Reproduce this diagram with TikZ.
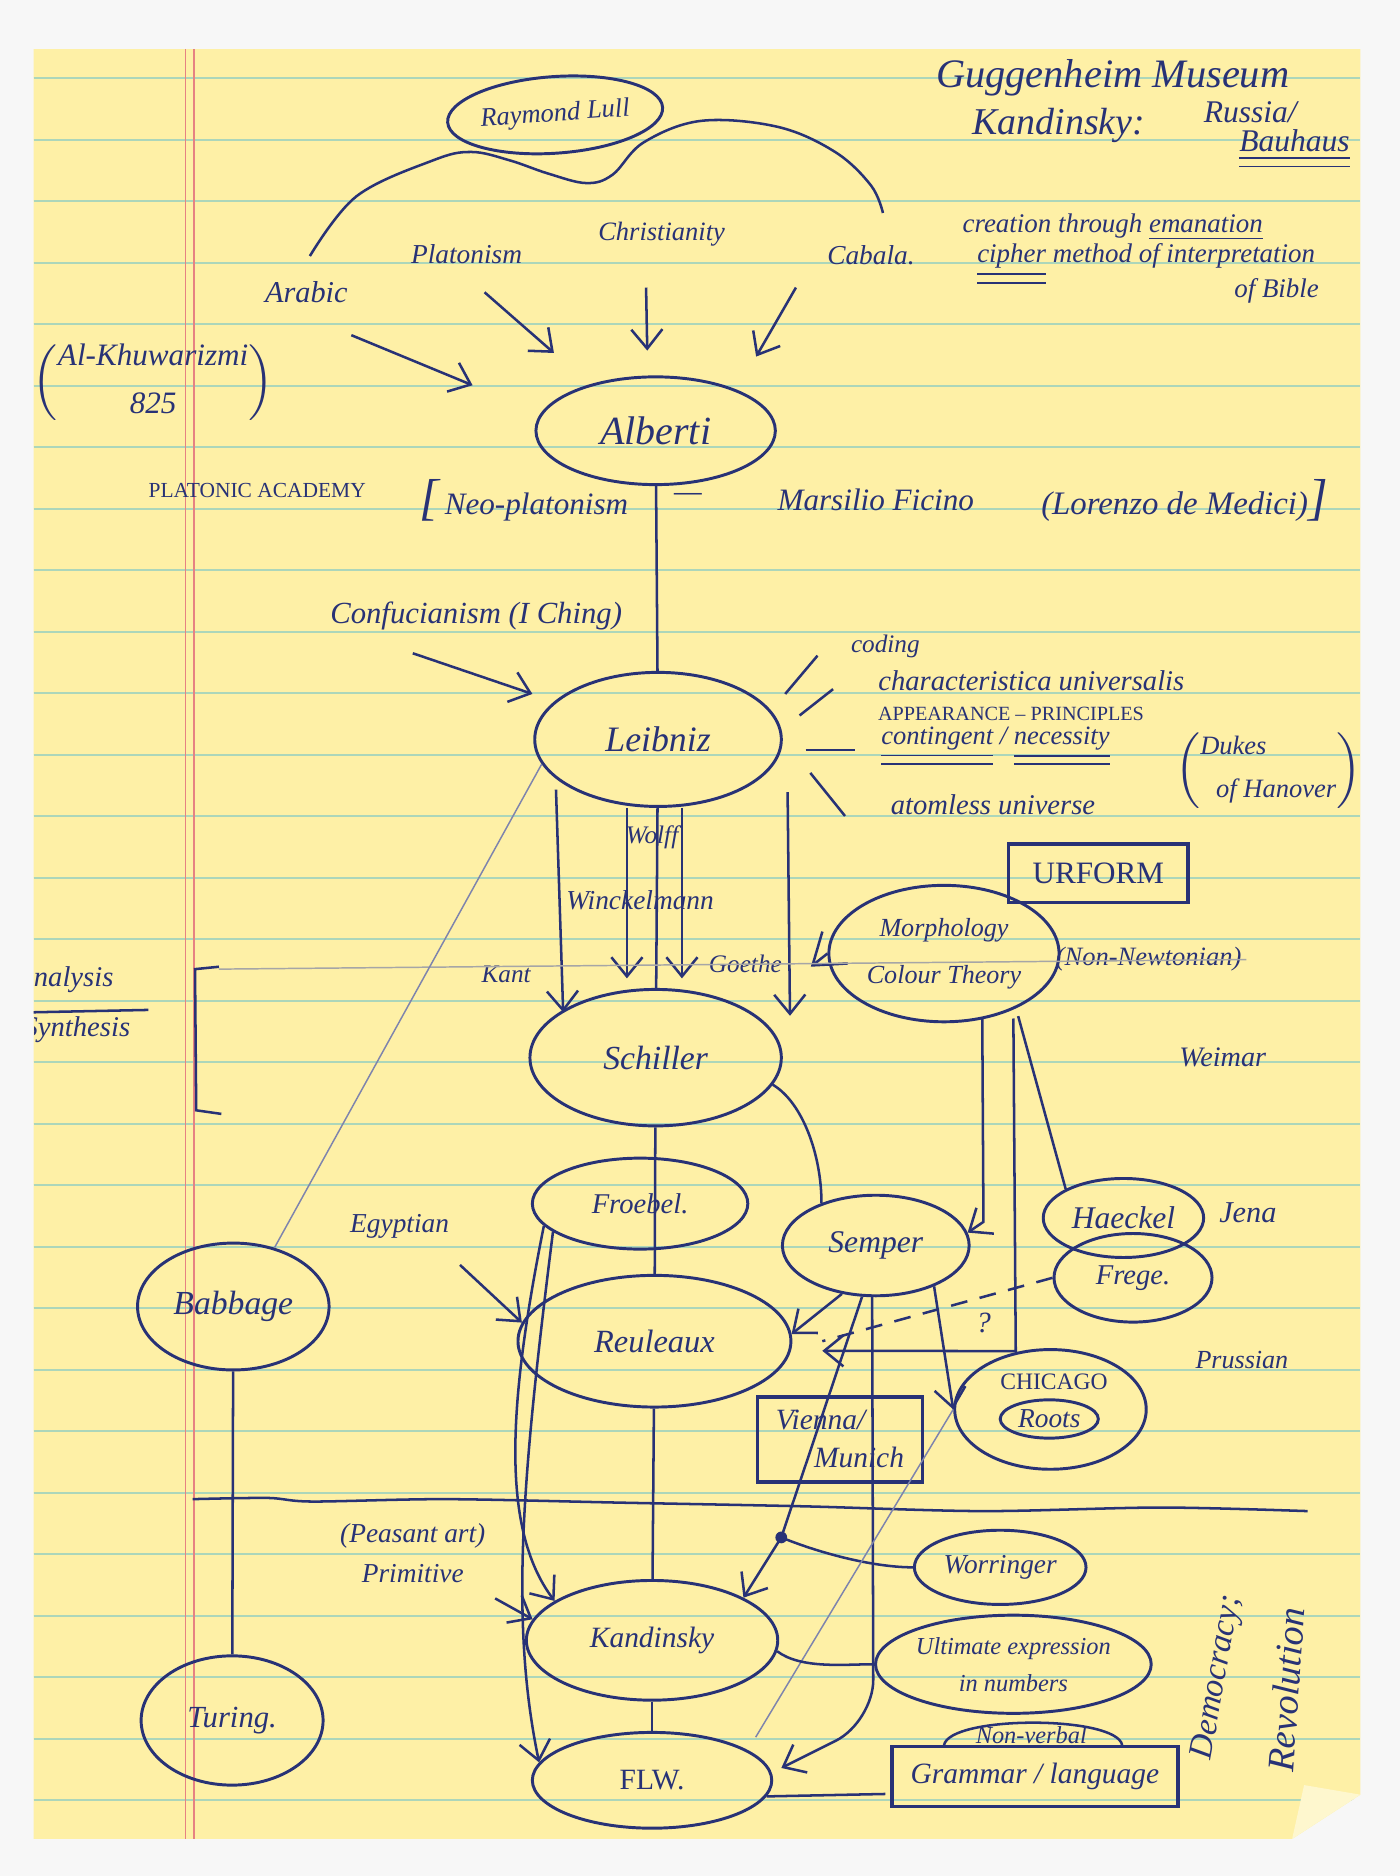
\documentclass[tikz,border=0pt]{standalone}
\usepackage{fontspec}
\setmainfont{Liberation Serif}
\usepackage{tikz}
\usetikzlibrary{shapes.geometric, arrows.meta, positioning}

\definecolor{paper}{RGB}{254,240,166}
\definecolor{ruling}{RGB}{172,214,186}
\definecolor{margin}{RGB}{230,130,130}
\definecolor{ink}{RGB}{40,50,118}

\begin{document}
\begin{tikzpicture}[x=0.01cm, y=-0.01cm, >={Straight Barb[length=1.6mm,width=2.6mm]}]
    \tikzset{fs/.style={text=ink, inner sep=1pt, font=\itshape\fontsize{#1}{#1pt}\selectfont}}
    \tikzset{caps/.style={text=ink, inner sep=1pt, font=\upshape\fontsize{#1}{#1pt}\selectfont}}
    \tikzstyle{idea} = [draw=ink, ellipse, line width=0.7pt, inner sep=0pt]
    \tikzstyle{boxed} = [draw=ink, rectangle, line width=0.8pt, inner sep=2pt]
    \tikzstyle{line} = [draw=ink, line width=0.6pt]
    \tikzstyle{arrowline} = [line, ->]
    \tikzstyle{faint} = [draw=ink!60, line width=0.35pt]

    \useasboundingbox (0,0) rectangle (1170,1568);
    \fill[black!3] (0,0) rectangle (1170,1568);

    % the legal pad sheet
    \fill[paper] (28,41) -- (1137,41) -- (1137,1500) -- (1080,1537) -- (28,1537) -- cycle;
    \begin{scope}
        \clip (28,41) -- (1137,41) -- (1137,1500) -- (1080,1537) -- (28,1537) -- cycle;
        \foreach \k in {0,...,28}
            \draw[ruling, line width=0.5pt] (28,{65.5+51.4*\k}) -- (1137,{65.5+51.4*\k});
        \draw[margin, line width=0.35pt] (155,41) -- (155,1537);
        \draw[margin, line width=0.35pt] (162,41) -- (162,1537);
        % cut off by the edge of the sheet
        \node[fs=6.8, anchor=east] (analysis) at (99,819) {Analysis};
        \node[fs=6.8, anchor=east] (synthesis) at (113,861) {Synthesis};
        \draw[line] ([shift={(-80,14)}]analysis.south west) -- ([shift={(25,10)}]analysis.south east);
    \end{scope}
    \fill[paper!55!white] (1090,1492) -- (1137,1500) -- (1080,1537) -- cycle;

    % heading
    \node[fs=9.6] (heading) at (930,65) {Guggenheim Museum};
    \node[fs=9] (kandheading) at (885,105) {Kandinsky:};
    \node[fs=7.5] (russia) at (1045,94) {Russia/};
    \node[fs=7.5] (bauhaus) at (1082,125) {\underline{\underline{Bauhaus}}};

    % sources of Alberti
    \node[idea, fs=6.3, inner sep=0pt, minimum width=1.8cm, minimum height=0.64cm, rotate=4] (lull) at (464,96) {Raymond Lull};
    \draw[line] plot[smooth, tension=0.6] coordinates {(259,214) (298,164) (362,134) (394,127) (426,134) (458,145) (490,153) (512,146) (538,119) (586,101) (650,106) (698,127) (728,155) (738,178)};
    \node[fs=6.5] (platonism) at (390,212) {Platonism};
    \node[fs=6.3] (christianity) at (553,196) {Christianity};
    \node[fs=6.5] (cabala) at (728,213) {Cabala.};
    \node[fs=6.4] (emanation) at (930,190) {creation through \underline{emanation}};
    \node[fs=6.4] (cipher) at (958,221) {\underline{\underline{cipher}} method of interpretation};
    \node[fs=6.4] (bible) at (1067,243) {of Bible};
    \node[fs=7.2] (arabic) at (256,244) {Arabic};
    \node[fs=7.4] (khuwarizmi) at (128,320) {$\left(\mbox{\begin{tabular}{@{}c@{}}Al-Khuwarizmi\\[4pt]825\end{tabular}}\right)$};

    \node[idea, fs=9.5, minimum width=2.0cm, minimum height=0.9cm] (alberti) at (548,360) {Alberti};
    \coordinate (intoalbertiA) at (395,322);
    \coordinate (intoalbertiB) at (463,295);
    \coordinate (intoalbertiC) at (541,293);
    \coordinate (intoalbertiD) at (632,298);
    \draw[arrowline] ([shift={(-1,23)}]arabic.south east) -- (intoalbertiA);
    \draw[arrowline] ([shift={(15,20)}]platonism.south) -- (intoalbertiB);
    \draw[arrowline] ([shift={(-13,30)}]christianity.south) -- (intoalbertiC);
    \draw[arrowline] ([shift={(-22,15)}]cabala.south west) -- (intoalbertiD);

    \node[caps=5.1] (academy) at (215,410) {PLATONIC ACADEMY};
    \node[fs=7.4] (neoplatonism) at (438,418) {{\fontsize{12}{12pt}\selectfont[}\,Neo-platonism};
    \node[fs=7.4] (dash) at (575,416) {---};
    \node[fs=7.4] (ficino) at (732,418) {Marsilio Ficino};
    \node[fs=7.8] (medici) at (990,418) {(Lorenzo de Medici){\fontsize{12}{12pt}\selectfont]}};

    % Leibniz
    \node[fs=7.3] (confucianism) at (398,515) {Confucianism (I Ching)};
    \coordinate (intoleibniz) at (445,580);
    \draw[arrowline] ([shift={(-53,15)}]confucianism.south) -- (intoleibniz);
    \node[idea, fs=8.5, minimum width=2.06cm, minimum height=1.12cm] (leibniz) at (550,618) {Leibniz};
    \draw[line] (alberti) -- (leibniz);
    \draw[line] ([shift={(2,-38)}]leibniz.east) -- ++(27,-32);
    \draw[line] ([shift={(14,-20)}]leibniz.east) -- ++(28,-22);
    \draw[line] ([shift={(19,9)}]leibniz.east) -- ++(41,0);
    \draw[line] ([shift={(23,28)}]leibniz.east) -- ++(29,36);
    \node[fs=6] (coding) at (740,540) {coding};
    \node[fs=6.8] (characteristica) at (862,569) {characteristica universalis};
    \node[caps=4.8] (appearance) at (845,597) {APPEARANCE -- PRINCIPLES};
    \node[fs=6.3] (contingent) at (832,624) {\underline{\underline{contingent}} / \underline{\underline{necessity}}};
    \node[fs=6.8] (atomless) at (830,673) {atomless universe};
    \node[fs=6.3] (dukes) at (1060,644) {$\left(\mbox{\begin{tabular}{@{}l@{}}Dukes\\[4pt]\hspace{0.6em}of Hanover\end{tabular}}\right)$};

    % Leibniz to Schiller
    \node[fs=6] (wolff) at (545,700) {Wolff};
    \node[fs=6.5] (winckelmann) at (535,752) {Winckelmann};
    \node[fs=6] (kant) at (423,814) {Kant};
    \node[fs=6] (goethe) at (623,806) {Goethe};
    \node[idea, fs=8, minimum width=2.1cm, minimum height=1.14cm] (schiller) at (548,884) {Schiller};
    \draw[arrowline] ([shift={(19,42)}]leibniz.west) -- ([shift={(29,-38)}]schiller.west);
    \draw[arrowline] ([shift={(-26,0)}]leibniz.south) -- ([shift={(-24,-8)}]schiller.north);
    \draw[line] (leibniz) -- (schiller);
    \draw[arrowline] ([shift={(20,0)}]leibniz.south) -- ([shift={(22,-8)}]schiller.north);
    \draw[arrowline] ([shift={(4,44)}]leibniz.east) -- ([shift={(6,-35)}]schiller.east);

    % Goethe's side
    \node[boxed, caps=7.4, minimum width=1.5cm, minimum height=0.49cm] (urform) at (918,730) {URFORM};
    \node[idea, fs=6.2, minimum width=1.76cm, minimum height=1.14cm, align=center] (morphology) at (789,797) {Morphology\\[5pt]Colour Theory};
    \node[fs=6.3] (nonnewtonian) at (960,802) {(Non-Newtonian)};
    \node[fs=6.7] (weimar) at (1022,884) {Weimar};
    \draw[line, -{Straight Barb[length=2.4mm,width=3.4mm]}] (morphology.west) -- ([shift={(20,2)}]goethe.east);
    \draw[line] (183,808) -- (163,810) -- (164,928) -- (185,931);
    \coordinate (brackettop) at (183,810);
    \draw[draw=black!35, line width=0.35pt] (brackettop) -- (nonnewtonian.east);

    % the middle generation
    \node[idea, fs=6.8, minimum width=1.8cm, minimum height=0.76cm] (froebel) at (535,1006) {Froebel.};
    \node[idea, fs=7.5, minimum width=1.56cm, minimum height=0.84cm] (semper) at (732,1041) {Semper};
    \node[idea, fs=7.5, minimum width=1.34cm, minimum height=0.66cm] (haeckel) at (939,1018) {Haeckel};
    \node[fs=7.2] (jena) at (1043,1014) {Jena};
    \node[idea, fs=6.8, minimum width=1.32cm, minimum height=0.74cm] (frege) at (947,1068) {Frege.};
    \node[idea, fs=7.7, minimum width=2.28cm, minimum height=1.1cm] (reuleaux) at (547,1121) {Reuleaux};
    \node[idea, fs=8, minimum width=1.6cm, minimum height=1.06cm] (babbage) at (195,1092) {Babbage};
    \node[fs=6.5] (egyptian) at (334,1025) {Egyptian};
    \node[idea, minimum width=1.6cm, minimum height=1.0cm] (chicago) at (878,1178) {};
    \node[caps=5.6] (chicagoname) at (881,1155) {CHICAGO};
    \node[idea, fs=6.5, inner sep=0pt, minimum width=0.82cm, minimum height=0.32cm] (roots) at (877,1186) {Roots};
    \node[fs=6.2] (prussian) at (1038,1137) {Prussian};
    \node[boxed, fs=7, minimum width=1.38cm, minimum height=0.71cm, align=left] (vienna) at (702,1203) {Vienna/\\[2pt]\hspace{1.3em}Munich};
    \node[fs=7] (query) at (822,1106) {?};

    \draw[line] (schiller.347) .. controls +(25,15) and +(0,-40) .. (semper.142);
    \draw[line] (schiller) -- (reuleaux);
    \draw[faint] (leibniz.192) -- (babbage.55);
    \draw[arrowline] ([shift={(32,-4)}]morphology.south) -- ++(1,170) -- (semper.8);
    \draw[arrowline] ([shift={(58,-4)}]morphology.south) -- ++(2,278) -- ([shift={(25,8)}]reuleaux.east);
    \draw[line] ([shift={(62,-6)}]morphology.south) -- (haeckel.north west);
    \draw[line, dash pattern=on 4pt off 3pt] (frege.west) -- ([shift={(25,0)}]reuleaux.east);
    \draw[arrowline] (semper.235) -- (reuleaux.3);
    \draw[arrowline] (semper.325) -- (chicago.west);
    \draw[arrowline] ([shift={(5,18)}]egyptian.south east) -- (reuleaux.172);

    % divider
    \draw[line] plot[smooth] coordinates {(161,1253) (224,1252) (261,1255) (373,1253) (522,1256) (672,1259) (821,1263) (970,1260) (1093,1263)};

    % Kandinsky and after
    \node[fs=6.5, align=center] (primitive) at (345,1298) {(Peasant art)\\[3pt]Primitive};
    \node[idea, fs=7, minimum width=2.1cm, minimum height=1.0cm] (kandinsky) at (545,1371) {Kandinsky};
    \node[idea, fs=6.5, minimum width=1.42cm, minimum height=0.62cm] (worringer) at (836,1310) {Worringer};
    \node[idea, fs=5.8, inner sep=0pt, minimum width=2.1cm, minimum height=0.82cm, align=center] (ultimate) at (847,1391) {Ultimate expression\\[3pt]in numbers};
    \node[idea, caps=7, minimum width=2.0cm, minimum height=0.8cm] (flw) at (545,1488) {FLW.};
    \node[boxed, fs=7, minimum width=2.39cm, minimum height=0.5cm] (grammar) at (865,1485) {Grammar / language};
    \node[fs=5.8] (nonverbal) at (862,1450) {Non-verbal};
    \node[idea, fs=7.3, minimum width=1.52cm, minimum height=1.08cm] (turing) at (194,1438) {Turing.};
    \node[fs=8, rotate=80] (democracy) at (1018,1402) {Democracy;};
    \node[fs=9, rotate=86] (revolution) at (1075,1412) {Revolution};

    \coordinate (worringerjoin) at (653,1285);
    \draw[arrowline] (semper.255) -- (worringerjoin) -- (kandinsky.25);
    \fill[ink] (worringerjoin) circle (1.4pt);
    \draw[line] (worringer.west) .. controls +(-30,0) and +(37,15) .. (worringerjoin);
    \draw[arrowline, rounded corners=10pt] (semper.266) -- ++(1,355) -- ([shift={(10,0)}]flw.6);
    \draw[faint] (chicago.west) -- ([shift={(20,-5)}]flw.25);
    \draw[arrowline] (froebel.193) .. controls +(-30,150) and +(-45,-60) .. (kandinsky.158);
    \draw[arrowline] (froebel.198) .. controls +(-25,200) and +(-25,-120) .. (flw.171);
    \draw[line] (reuleaux) -- (kandinsky);
    \draw[line] (kandinsky) -- (flw);
    \draw[arrowline] ([shift={(4,9)}]primitive.south east) -- (kandinsky.170);
    \draw[line] (kandinsky.355) .. controls +(20,15) and +(-25,0) .. (ultimate.west);
    \draw[line] (flw.352) -- ([shift={(-4,-12)}]grammar.south west);
    \draw[line] ([shift={(45,0)}]grammar.north west) .. controls +(5,-25) and +(-5,-25) .. ([shift={(-48,0)}]grammar.north east);
    \draw[line] (babbage) -- (turing);
\end{tikzpicture}
\end{document}
